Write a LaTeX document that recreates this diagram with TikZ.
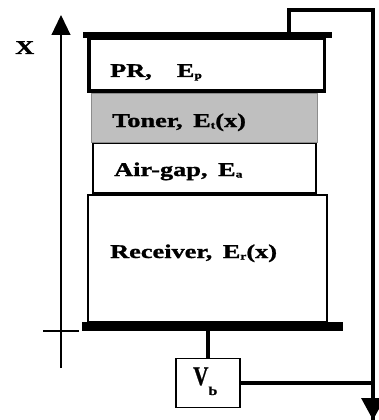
\documentclass[tikz,border=0pt]{standalone}
\usepackage{fontspec}
\setmainfont{Liberation Serif}[BoldFeatures={FakeBold=1}]
\usetikzlibrary{arrows.meta}
\newcommand{\lsub}[1]{\raisebox{-1.5pt}{\fontsize{10}{10}\selectfont #1}}
\newcommand{\wide}[1]{\scalebox{1.35}[1]{#1}}

\begin{document}
\begin{tikzpicture}[
  x=1pt, y=-1pt,
  font=\fontsize{19.5}{22}\selectfont\bfseries,
  plate/.style={fill=black, inner sep=0pt},
  layer/.style={draw, inner sep=0pt},
  lbl/.style={anchor=base west, inner sep=0pt},
  wire/.style={line width=3.2pt},
  axis/.style={line width=1.2pt},
  tip/.style={-{Triangle[length=20pt, width=19pt]}}
]
\useasboundingbox (0,0) rectangle (378,420);

\node[layer, line width=2pt, fill=white] (rec)   at (207.5, 258.5) [minimum width=238.5pt, minimum height=127pt] {};
\node[layer, line width=2pt, fill=white] (air)   at (204.5, 168)   [minimum width=223pt, minimum height=50pt] {};
\node[layer, line width=0.8pt, draw=gray!90, fill=gray!50] (toner) at (204, 117.5) [minimum width=226pt, minimum height=49pt] {};
\node[layer, line width=3.5pt, fill=white] (pr)  at (206.5, 64.6)  [minimum width=235.5pt, minimum height=53pt] {};
\node[plate] (topplate) at (207.5, 35)   [minimum width=249pt, minimum height=6pt] {};
\node[plate] (botplate) at (212.5, 326.5) [minimum width=261pt, minimum height=9pt] {};
\node[layer, line width=1.5pt] (vb) at (208, 383) [minimum width=64pt, minimum height=49pt] {};

\node[lbl] (prlbl)    at (110, 77)  {\wide{PR,\hspace{0.95em}E\lsub{p}}};
\node[lbl] (tonerlbl) at (112, 127) {\wide{Toner,\hspace{0.4em}E\lsub{t}(x)}};
\node[lbl] (airlbl)   at (114, 176) {\wide{Air-gap,\hspace{0.4em}E\lsub{a}}};
\node[lbl] (reclbl)   at (110, 258) {\wide{Receiver,\hspace{0.4em}E\lsub{r}(x)}};
\node[lbl] (vblbl)    at (193, 385) {\scalebox{0.78}[1]{\fontsize{27}{27}\selectfont\bfseries V}\raisebox{-10pt}{\wide{\fontsize{12}{12}\selectfont b}}};
\node[lbl] (xlbl)     at (15, 54)   {\wide{X}};

\coordinate (tap)    at (289, 10);
\coordinate (corner) at (373, 10);
\coordinate (wireend) at (373, 420);
\draw[wire] (tap |- topplate.north) -- (tap) -- (corner) -- ([yshift=-20pt]wireend);
\draw[wire, -{Triangle[length=22pt, width=23pt]}] (corner) -- (wireend);
\draw[wire] (botplate.south -| vb.north) -- (vb.north);
\draw[wire] (vb.east) -- (vb.east -| corner);

\coordinate (axbot) at (61, 368);
\coordinate (axtop) at (61, 15);
\coordinate (tickl) at (43, 331);
\coordinate (tickr) at (79, 331);
\draw[axis, tip] (axbot) -- (axtop);
\draw[axis] (tickl) -- (tickr);
\end{tikzpicture}
\end{document}
